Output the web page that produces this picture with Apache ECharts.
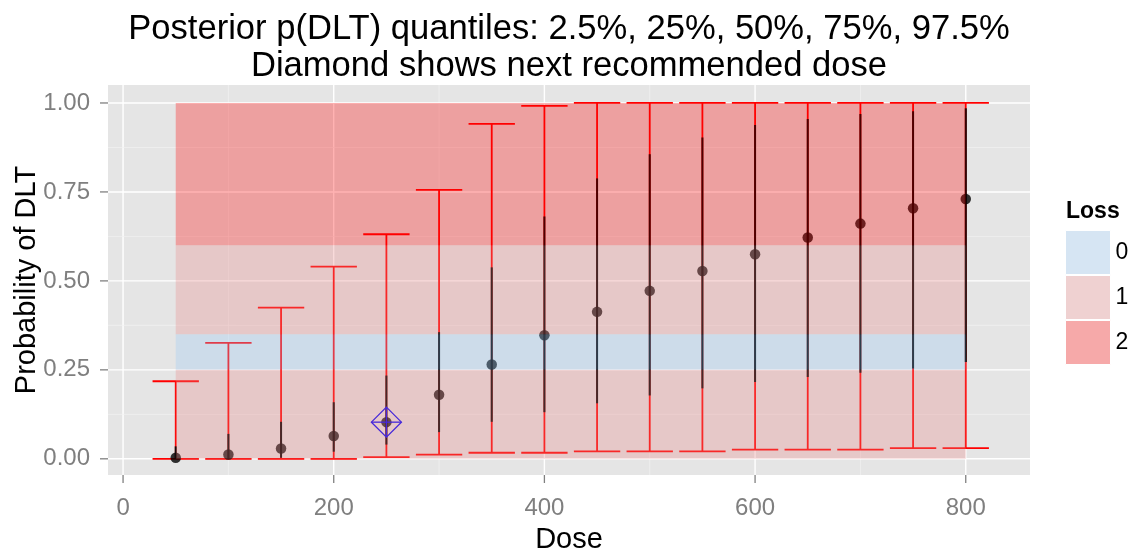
<!DOCTYPE html>
<html>
<head>
<meta charset="utf-8">
<script src="https://cdn.jsdelivr.net/npm/echarts@6/dist/echarts.min.js"></script>
<style>html,body{margin:0;padding:0;background:#fff;}#c{width:1138px;height:553px;}</style>
</head>
<body>
<div id="c"></div>
<script>
// ---- data ----
const doses = [50,100,150,200,250,300,350,400,450,500,550,600,650,700,750,800];
const q025 = [0.000,0.000,0.000,0.000,0.005,0.012,0.017,0.017,0.021,0.021,0.021,0.026,0.026,0.026,0.030,0.030];
const q25  = [0.000,0.001,0.003,0.020,0.040,0.075,0.104,0.131,0.156,0.178,0.198,0.216,0.230,0.242,0.254,0.272];
const q50  = [0.003,0.012,0.029,0.064,0.103,0.180,0.265,0.347,0.413,0.472,0.528,0.575,0.622,0.661,0.704,0.730];
const q75  = [0.035,0.070,0.104,0.159,0.234,0.356,0.538,0.681,0.788,0.856,0.903,0.938,0.955,0.969,0.977,0.985];
const q975 = [0.218,0.326,0.425,0.540,0.631,0.756,0.941,0.992,1.000,1.000,1.000,1.000,1.000,1.000,1.000,1.000];
const nextDose = [250];
const nextDoseP = [0.103];
const lossLower = [0, 0.25, 0.35, 0.6];
const lossUpper = [0.25, 0.35, 0.6, 1.0];
const lossLevel = [1, 0, 1, 2];
const lossNames = ['0','1','2'];
const xTicks = [0,200,400,600,800];
const xMinor = [100,300,500,700];
const yTicks = [0,0.25,0.5,0.75,1];
const yMinor = [0.125,0.375,0.625,0.875];

// ---- styles ----
const FONT = 'Liberation Sans';
const bandFill = ['rgba(149,199,246,0.3)','rgba(232,132,132,0.3)','rgba(255,0,0,0.3)'];
const legendFill = ['#D6E5F3','#EFD1D1','#F6A9A9'];
const CAP = 22;
const TICK_LEN = 8;

const chart = echarts.init(document.getElementById('c'), null, {renderer:'canvas'});

const gridData = [];
xTicks.forEach(v=>gridData.push([v,0,1]));
xMinor.forEach(v=>gridData.push([v,0,0]));
yTicks.forEach(v=>gridData.push([v,1,1]));
yMinor.forEach(v=>gridData.push([v,1,0]));
const tickData = xTicks.map(v=>[v,0]).concat(yTicks.map(v=>[v,1]));

const barData = doses.map((d,i)=>[d,q025[i],q25[i],q50[i],q75[i],q975[i]]);
const bandSeries = lossNames.map((nm,lv)=>{
  const data = [];
  lossLevel.forEach((l,i)=>{ if(l===lv) data.push([doses[0], doses[doses.length-1], lossLower[i], lossUpper[i]]); });
  return {
    type:'custom', name:nm, z:10, silent:true,
    itemStyle:{color:legendFill[lv]},
    encode:{x:[0,1], y:[2,3]},
    data,
    renderItem(params, api){
      const p0 = api.coord([api.value(0), api.value(3)]);
      const p1 = api.coord([api.value(1), api.value(2)]);
      return {type:'rect', shape:{x:p0[0], y:p0[1], width:p1[0]-p0[0], height:p1[1]-p0[1]},
        style:{fill:bandFill[lv]}};
    }
  };
});

const option = {
  animation:false,
  backgroundColor:'#FFFFFF',
  title:{
    text:'Posterior p(DLT) quantiles: 2.5%, 25%, 50%, 75%, 97.5%\nDiamond shows next recommended dose',
    left:'center', top:11, padding:[0,10,0,0],
    textStyle:{fontFamily:FONT, fontSize:34.6, fontWeight:'normal', color:'#000', lineHeight:37}
  },
  legend:{
    orient:'vertical', left:1065, top:230, padding:0, itemGap:0,
    itemWidth:45, itemHeight:44, icon:'rect', selectedMode:false,
    textStyle:{fontFamily:FONT, fontSize:23, color:'#000'},
    data: lossNames.map((n,i)=>({name:n, itemStyle:{color:legendFill[i], borderColor:'#fff', borderWidth:1}}))
  },
  graphic:[{type:'text', left:1066, top:200, style:{text:'Loss', font:'bold 23px "Liberation Sans"', fill:'#000'}}],
  grid:{left:108, top:85, width:922, height:390, show:true, backgroundColor:'#E5E5E5', borderWidth:0,
        containLabel:false, outerBoundsMode:'none'},
  xAxis:{
    type:'value', min:-14.3, max:861,
    name:'Dose', nameLocation:'middle', nameGap:50, nameMoveOverlap:false,
    nameTextStyle:{fontFamily:FONT, fontSize:29, color:'#000'},
    axisLine:{show:false},
    axisTick:{show:false},
    axisLabel:{customValues:xTicks, fontFamily:FONT, fontSize:24, color:'#7F7F7F', margin:21},
    splitLine:{show:false}
  },
  yAxis:{
    type:'value', min:-0.0455, max:1.0505,
    name:'Probability of DLT', nameLocation:'middle', nameGap:67, nameMoveOverlap:false,
    nameTextStyle:{fontFamily:FONT, fontSize:29, color:'#000'},
    axisLine:{show:false},
    axisTick:{show:false},
    axisLabel:{customValues:yTicks, fontFamily:FONT, fontSize:24, color:'#7F7F7F', margin:18,
      formatter:v=>v.toFixed(2)},
    splitLine:{show:false}
  },
  series:[
    {
      type:'custom', name:'grid', z:1, silent:true, data:gridData,
      encode:{x:0, y:1},
      renderItem(params, api){
        const cs = params.coordSys;
        const v = api.value(0), dir = api.value(1), major = api.value(2);
        let shape;
        if(dir===0){ const p = api.coord([v,0]); shape={x1:p[0],y1:cs.y,x2:p[0],y2:cs.y+cs.height}; }
        else { const p = api.coord([0,v]); shape={x1:cs.x,y1:p[1],x2:cs.x+cs.width,y2:p[1]}; }
        return {type:'line', shape, style:{stroke: major?'#FFFFFF':'#F2F2F2', lineWidth: major?1.4:0.7}};
      }
    },
    {
      type:'custom', name:'ticks', z:1, silent:true, clip:false, data:tickData,
      encode:{x:0, y:1},
      renderItem(params, api){
        const cs = params.coordSys;
        const v = api.value(0), dir = api.value(1);
        let shape;
        if(dir===0){ const p = api.coord([v,0]); const yb = cs.y+cs.height; shape={x1:p[0],y1:yb,x2:p[0],y2:yb+TICK_LEN}; }
        else { const p = api.coord([0,v]); shape={x1:cs.x-TICK_LEN,y1:p[1],x2:cs.x,y2:p[1]}; }
        return {type:'line', shape, style:{stroke:'#808080', lineWidth:1.3}};
      }
    },
    {
      type:'custom', name:'bars', z:2, silent:true, data:barData,
      encode:{x:0, y:[1,5]},
      renderItem(params, api){
        const d = api.value(0);
        const lo = api.coord([d, api.value(1)]), hi = api.coord([d, api.value(5)]);
        const a = api.coord([d, api.value(2)]), b = api.coord([d, api.value(4)]);
        const cl = api.coord([d-CAP, 0])[0], cr = api.coord([d+CAP, 0])[0];
        const red = {stroke:'#FF0000', lineWidth:1.8};
        return {type:'group', children:[
          {type:'line', shape:{x1:lo[0],y1:lo[1],x2:hi[0],y2:hi[1]}, style:red},
          {type:'line', shape:{x1:cl,y1:lo[1],x2:cr,y2:lo[1]}, style:red},
          {type:'line', shape:{x1:cl,y1:hi[1],x2:cr,y2:hi[1]}, style:red},
          {type:'line', shape:{x1:a[0],y1:a[1],x2:b[0],y2:b[1]}, style:{stroke:'#000', lineWidth:2}}
        ]};
      }
    },
    {
      type:'scatter', name:'median', z:3, silent:true, symbol:'circle', symbolSize:10.5,
      itemStyle:{color:'#000'}, data: doses.map((d,i)=>[d,q50[i]])
    },
    {
      type:'custom', name:'next', z:4, silent:true, data: nextDose.map((d,i)=>[d,nextDoseP[i]]),
      encode:{x:0, y:1},
      renderItem(params, api){
        const p = api.coord([api.value(0), api.value(1)]);
        const h = 15, x=p[0], y=p[1];
        const st = {stroke:'#0000FF', lineWidth:1.3, fill:null};
        return {type:'group', children:[
          {type:'polygon', shape:{points:[[x,y-h],[x+h,y],[x,y+h],[x-h,y]]}, style:st},
          {type:'line', shape:{x1:x-h,y1:y,x2:x+h,y2:y}, style:st},
          {type:'line', shape:{x1:x,y1:y-h,x2:x,y2:y+h}, style:st}
        ]};
      }
    }
  ].concat(bandSeries)
};
chart.setOption(option);
</script>
</body>
</html>
